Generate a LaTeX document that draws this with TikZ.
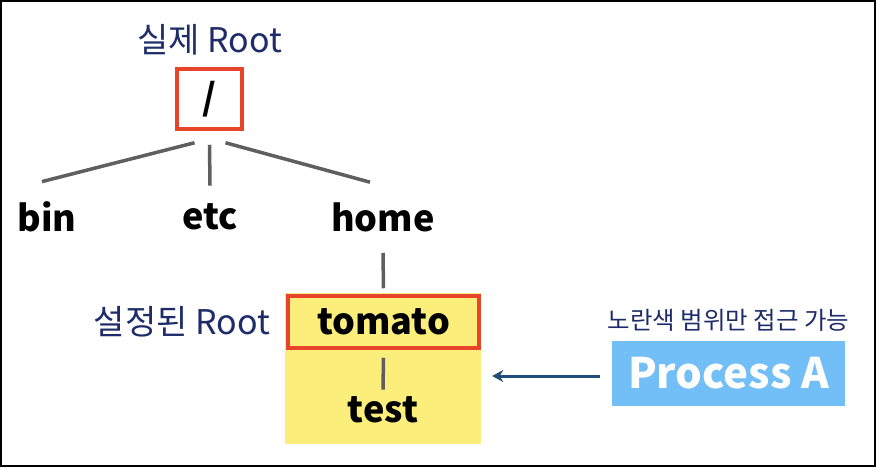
\documentclass[tikz,border=0pt]{standalone}
\usepackage{fontspec}
\setmainfont{Noto Sans CJK KR}
\usetikzlibrary{arrows, arrows.meta, positioning}
\definecolor{bleunuit}{RGB}{30,45,105}
\definecolor{rouge}{RGB}{232,68,42}
\definecolor{gristrait}{RGB}{95,95,95}
\definecolor{jaune}{RGB}{252,238,122}
\definecolor{bleuclair}{RGB}{114,190,247}
\definecolor{flechebleu}{RGB}{31,78,122}
\tikzstyle{trait} = [-,line width=3.5pt,color=gristrait]
\tikzstyle{fleche} = [->,>={Stealth[length=11pt,width=12pt]},line width=3pt,color=flechebleu]
\tikzstyle{mot} = [inner sep=0pt,font=\fontsize{36}{36}\selectfont\bfseries]
\tikzstyle{legende} = [inner sep=0pt,text=bleunuit,font=\fontsize{34}{34}\selectfont]
\tikzstyle{cadre} = [draw=rouge,line width=3.5pt,inner sep=0pt]
\usepackage{color}

\begin{document}
\begin{tikzpicture}[x=1pt,y=-1pt]

	\useasboundingbox (0,0) rectangle (876,467);
	\draw[line width=1.5pt] (1,1) rectangle (875,466);

	%% Arbre
	\node [cadre, mot, minimum width=65pt, minimum height=60pt] (root) at (209.5,99) {/};
	\node [legende, above=12pt of root] (Reel) {실제 Root};

	\node [mot] (bin) at (47,217) {bin};
	\node [mot] (etc) at (210,217) {etc};
	\node [mot] (home) at (383,217) {home};

	\draw [trait] ([xshift=-15pt,yshift=-12pt]root.south) -- ([xshift=-5pt,yshift=20pt]bin.north);
	\draw [trait] ([yshift=-14pt]root.south) -- ([yshift=18pt]etc.north);
	\draw [trait] ([xshift=16pt,yshift=-12pt]root.south) -- ([xshift=-13pt,yshift=20pt]home.north);

	%% Zone jaune
	\node [fill=jaune, minimum width=196pt, minimum height=151pt, inner sep=0pt] (Jaune) at (383,368.5) {};
	\node [cadre, mot, minimum width=191pt, minimum height=52pt] (tomato) at (383.5,322) {tomato};
	\node [mot] (test) at (383,410) {test};
	\node [legende, left=16pt of tomato] (Conf) {설정된 Root};

	\draw [trait] ([yshift=-21pt]home.south) -- ([yshift=6pt]tomato.north);
	\draw [trait] ([yshift=-8pt]tomato.south) -- ([yshift=7pt]test.north);

	%% Processus
	\node [fill=bleuclair, text=white, minimum width=233pt, minimum height=65pt, inner sep=0pt,
		font=\fontsize{42}{42}\selectfont\bfseries] (Proc) at (728.5,373.5) {Process A};
	\node [legende, above=9pt of Proc, font=\fontsize{24.5}{24.5}\selectfont] (Acces) {노란색 범위만 접근 가능};

	\draw [fleche] ([xshift=-12pt,yshift=-2.5pt]Proc.west) -- ([xshift=11pt,yshift=-2.5pt]Proc.west -| Jaune.east);

\end{tikzpicture}
\end{document}
